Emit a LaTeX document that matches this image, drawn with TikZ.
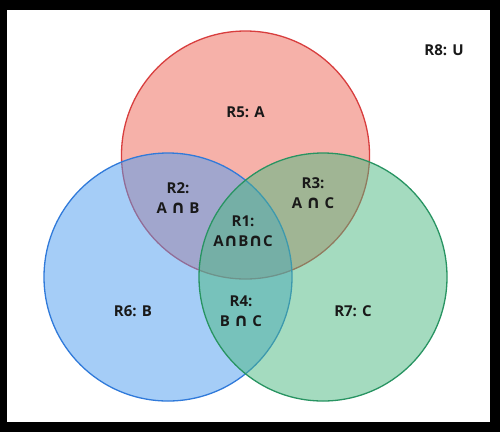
\documentclass[tikz,border=0pt]{standalone}
\usepackage{fontspec}
\setsansfont{Open Sans}
\newfontfamily\symfont{DejaVu Sans}
\usetikzlibrary{positioning}
\definecolor{setA}{RGB}{239,101,85}
\definecolor{setB}{RGB}{77,157,241}
\definecolor{setC}{RGB}{75,185,129}
\definecolor{lineA}{RGB}{216,62,62}
\definecolor{lineB}{RGB}{48,122,218}
\definecolor{lineC}{RGB}{40,148,98}
\newcommand{\capsym}{{\symfont\fontsize{18}{20}\selectfont ∩}}

\begin{document}
\begin{tikzpicture}[
  x=1pt, y=-1pt,
  set/.style={fill=set#1, fill opacity=0.5, draw=line#1, draw opacity=1,
    line width=1.3pt},
  lab/.style={font=\sffamily\bfseries\fontsize{15}{20}\selectfont,
    align=center, inner sep=1pt, text=black!90}]

% frame
\fill[black] (0,0) rectangle (500,432);
\fill[white] (7,10) rectangle (490,422);
\useasboundingbox (0,0) rectangle (500,432);

% the three sets
\filldraw[set=A] (245.5,155) circle[radius=124];
\filldraw[set=B] (168,277) circle[radius=124];
\filldraw[set=C] (323,277) circle[radius=124];

% regions
\node[lab] (R8) at (444,50)    {R8: U};
\node[lab] (R5) at (245.5,112) {R5: A};
\node[lab] (R2) at (178,198)   {R2:\\A \capsym{} B};
\node[lab] (R3) at (313,193)   {R3:\\A \capsym{} C};
\node[lab] (R1) at (243,231)   {R1:\\A\capsym{}B\capsym{}C};
\node[lab] (R4) at (241,311)   {R4:\\B \capsym{} C};
\node[lab] (R6) at (133,311)   {R6: B};
\node[lab] (R7) at (353,311)   {R7: C};

\end{tikzpicture}
\end{document}
